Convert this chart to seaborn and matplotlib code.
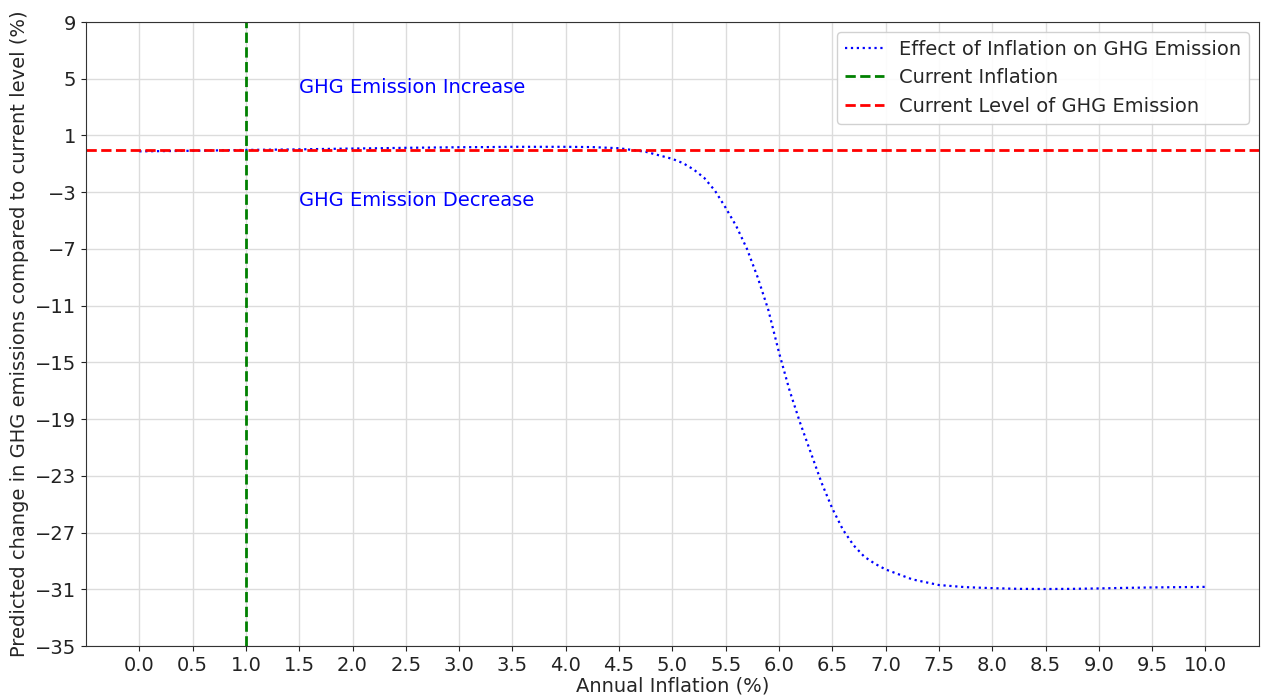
import matplotlib
matplotlib.use("Agg")
import matplotlib.pyplot as plt
import seaborn as sns
import pandas as pd

# Data
inflation = [0.0, 0.25, 0.5, 0.75, 1.0, 1.25, 1.5, 1.75, 2.0, 2.25, 2.5, 2.75,
             3.0, 3.25, 3.5, 3.75, 4.0, 4.25, 4.5, 4.75, 5.0, 5.1, 5.2, 5.3,
             5.4, 5.5, 5.6, 5.7, 5.8, 5.9, 6.0, 6.1, 6.2, 6.3, 6.4, 6.5, 6.6,
             6.7, 6.8, 6.9, 7.0, 7.25, 7.5, 7.75, 8.0, 8.25, 8.5, 8.75, 9.0,
             9.25, 9.5, 9.75, 10.0]
ghg_change = [-0.12, -0.1, -0.08, -0.05, -0.02, 0.0, 0.02, 0.05, 0.08, 0.1,
              0.13, 0.15, 0.17, 0.18, 0.2, 0.2, 0.2, 0.18, 0.1, -0.15, -0.65,
              -0.95, -1.4, -2.0, -2.9, -4.1, -5.4, -7.0, -9.0, -11.3, -14.3,
              -17.0, -19.3, -21.4, -23.5, -25.3, -26.8, -27.9, -28.7, -29.2,
              -29.6, -30.3, -30.7, -30.85, -30.92, -30.97, -30.98, -30.97,
              -30.94, -30.9, -30.87, -30.85, -30.83]
current_inflation = 1.0
current_level = 0.0
x_ticks = [i * 0.5 for i in range(21)]
y_ticks = list(range(-35, 10, 4))

df = pd.DataFrame({"inflation": inflation, "change": ghg_change})

sns.set_style("ticks")
plt.rcParams["font.family"] = ["DejaVu Sans"]

fig = plt.figure(figsize=(12.61, 6.99), dpi=100)
ax = fig.add_axes([0.0682, 0.0758, 0.9300, 0.8927])

sns.lineplot(data=df, x="inflation", y="change", ax=ax, color="blue",
             linestyle=":", linewidth=1.6,
             label="Effect of Inflation on GHG Emission")
ax.axvline(current_inflation, color="green", linestyle="--", linewidth=2,
           label="Current Inflation")
ax.axhline(current_level, color="red", linestyle="--", linewidth=2,
           label="Current Level of GHG Emission")

ax.text(1.5, 4, "GHG Emission Increase", color="blue", fontsize=14)
ax.text(1.5, -4, "GHG Emission Decrease", color="blue", fontsize=14)

ax.set_xlim(-0.5, 10.5)
ax.set_ylim(-35, 9)
ax.set_xticks(x_ticks)
ax.set_xticklabels([f"{t:.1f}" for t in x_ticks])
ax.set_yticks(y_ticks)
ax.tick_params(labelsize=14, colors="#222222")
ax.grid(True, color="#dcdcdc", linewidth=1)
for s in ax.spines.values():
    s.set_color("#333333")

ax.set_xlabel("Annual Inflation (%)", fontsize=14, labelpad=1)
ax.set_ylabel("Predicted change in GHG emissions compared to current level (%)",
              fontsize=14, labelpad=4)

leg = ax.legend(loc="upper right", fontsize=14, framealpha=0.9)
leg.get_frame().set_edgecolor("#cccccc")

fig.savefig("out.png", dpi=100)
